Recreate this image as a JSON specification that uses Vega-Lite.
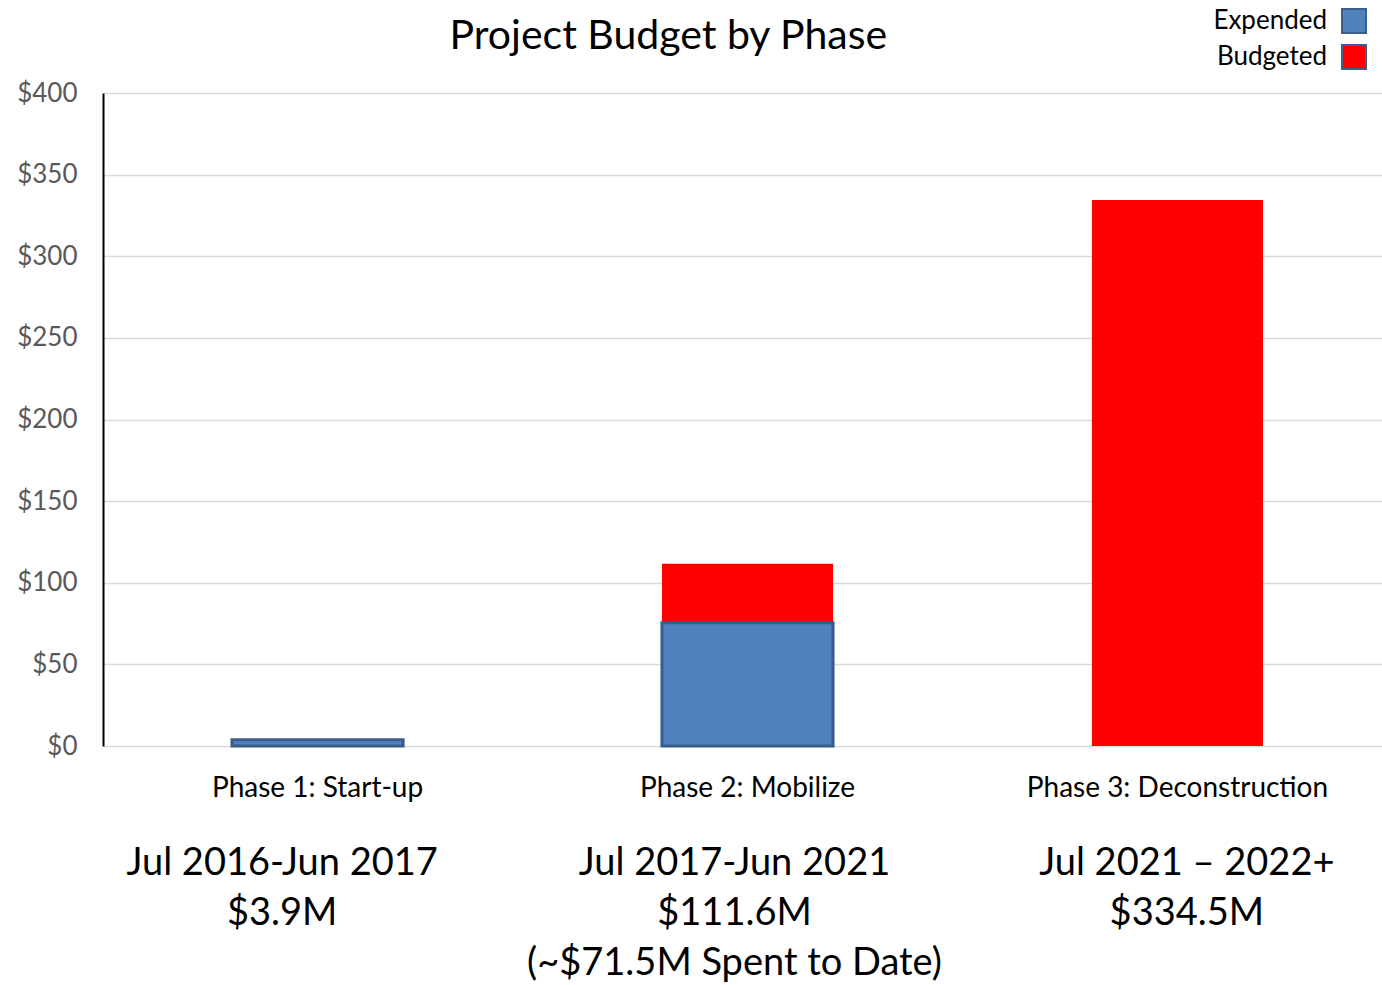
{
  "$schema": "https://vega.github.io/schema/vega-lite/v6.json",
  "background": "white",
  "padding": {"left": 16, "top": 8, "right": 0, "bottom": 0},
  "title": {
    "text": "Project Budget by Phase",
    "font": "Lato",
    "fontSize": 41,
    "fontWeight": "normal",
    "color": "black",
    "anchor": "middle",
    "dx": -36,
    "offset": -50
  },
  "config": {
    "view": {"stroke": null},
    "concat": {"spacing": 37},
    "font": "Lato"
  },
  "vconcat": [
    {
      "width": 1289,
      "height": 653,
      "data": {
        "values": [
          {"phase": "Phase 1:  Start-up", "series": "Budgeted", "amount": 3.9},
          {"phase": "Phase 2: Mobilize", "series": "Budgeted", "amount": 111.6},
          {"phase": "Phase 3: Deconstruction", "series": "Budgeted", "amount": 334.5},
          {"phase": "Phase 1:  Start-up", "series": "Expended", "amount": 3.9},
          {"phase": "Phase 2: Mobilize", "series": "Expended", "amount": 75.5}
        ]
      },
      "mark": {"type": "bar", "strokeWidth": 3},
      "encoding": {
        "x": {
          "field": "phase",
          "type": "nominal",
          "sort": null,
          "scale": {"paddingInner": 0.602, "paddingOuter": 0.3},
          "axis": {
            "title": null,
            "labelAngle": 0,
            "labelFont": "Lato",
            "labelFontSize": 28,
            "labelColor": "black",
            "labelLimit": 0,
            "ticks": false,
            "domain": false,
            "labelPadding": 28
          }
        },
        "y": {
          "field": "amount",
          "type": "quantitative",
          "stack": null,
          "scale": {"domain": [0, 400]},
          "axis": {
            "title": null,
            "values": [0, 50, 100, 150, 200, 250, 300, 350, 400],
            "format": "$.0f",
            "labelFont": "Lato",
            "labelFontSize": 26,
            "labelColor": "#595959",
            "labelPadding": 26,
            "ticks": false,
            "domain": true,
            "domainColor": "black",
            "domainWidth": 2,
            "grid": true,
            "gridColor": "#D9D9D9",
            "gridWidth": 1.5
          }
        },
        "color": {
          "field": "series",
          "type": "nominal",
          "scale": {"domain": ["Expended", "Budgeted"], "range": ["#4F81BD", "#FF0000"]},
          "legend": {
            "title": null,
            "orient": "none",
            "legendX": 1238,
            "legendY": -85,
            "direction": "vertical",
            "labelFont": "Lato",
            "labelFontSize": 26,
            "labelColor": "black",
            "labelAlign": "right",
            "labelOffset": -40,
            "symbolType": "square",
            "symbolSize": 576,
            "symbolStrokeColor": "#3A5F8C",
            "symbolStrokeWidth": 2,
            "symbolOpacity": 1,
            "rowPadding": 4
          }
        },
        "stroke": {
          "condition": {"test": "datum.series == 'Expended'", "value": "#385D8A"},
          "value": "transparent"
        }
      }
    },
    {
      "width": 1289,
      "height": 150,
      "data": {
        "values": [
          {"phase": "Phase 1", "line": 1, "text": "Jul 2016-Jun 2017"},
          {"phase": "Phase 1", "line": 2, "text": "$3.9M"},
          {"phase": "Phase 2", "line": 1, "text": "Jul 2017-Jun 2021"},
          {"phase": "Phase 2", "line": 2, "text": "$111.6M"},
          {"phase": "Phase 2", "line": 3, "text": "(~$71.5M Spent to Date)"},
          {"phase": "Phase 3", "line": 1, "text": "Jul 2021 – 2022+"},
          {"phase": "Phase 3", "line": 2, "text": "$334.5M"}
        ]
      },
      "mark": {"type": "text", "font": "Lato", "fontSize": 38, "color": "black", "baseline": "middle"},
      "encoding": {
        "x": {
          "field": "phase",
          "type": "nominal",
          "sort": null,
          "axis": null,
          "scale": {"range": [-47, 1310], "paddingInner": 0, "paddingOuter": 0}
        },
        "y": {
          "field": "line",
          "type": "ordinal",
          "axis": null,
          "scale": {"type": "point", "padding": 0.5}
        },
        "text": {"field": "text"}
      }
    }
  ]
}
